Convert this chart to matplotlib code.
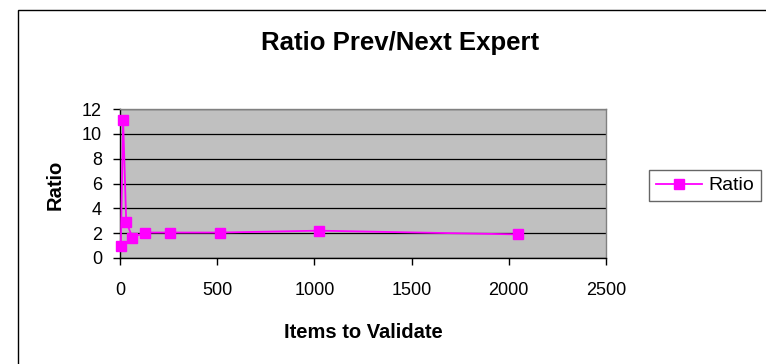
import matplotlib.pyplot as plt
from matplotlib.patches import Rectangle

items = [4, 16, 32, 64, 128, 256, 512, 1024, 2048]
ratio = [1.0, 11.1, 2.9, 1.65, 2.05, 2.05, 2.05, 2.2, 1.9]
x_ticks = [0, 500, 1000, 1500, 2000, 2500]
y_ticks = [0, 2, 4, 6, 8, 10, 12]

plt.rcParams['font.family'] = ['Liberation Sans', 'DejaVu Sans']

W, H = 766, 364
fig = plt.figure(figsize=(W / 100, H / 100), dpi=100)

# chart area frame, runs off the right and bottom edges
fig.patches.append(Rectangle((18 / W, -0.1), 1.0, 1.1 - 10.5 / H, transform=fig.transFigure,
                             fill=False, edgecolor='black', linewidth=1.0))

ax = fig.add_axes([120 / W, 1 - 258 / H, 486 / W, 149 / H])
ax.set_facecolor('#c0c0c0')
ax.plot(items, ratio, color='#ff00ff', marker='s', markersize=6.5, linewidth=1.3,
        label='Ratio', clip_on=False, zorder=3)

ax.set_xlim(0, 2500)
ax.set_ylim(0, 12)
ax.set_xticks(x_ticks)
ax.set_yticks(y_ticks)
ax.grid(axis='y', color='black', linewidth=0.9)
ax.set_axisbelow(True)

for side in ['left', 'bottom']:
    ax.spines[side].set_color('black')
    ax.spines[side].set_linewidth(1.0)
for side in ['top', 'right']:
    ax.spines[side].set_color('#808080')
    ax.spines[side].set_linewidth(1.0)

ax.tick_params(direction='out', length=5, width=1, labelsize=13)
ax.tick_params(axis='x', pad=12)
ax.tick_params(axis='y', pad=8)

fig.text(363 / W, 1 - 338 / H, 'Items to Validate', fontsize=14.5, fontweight='bold',
         ha='center', va='baseline')
fig.text(55.5 / W, 1 - 185 / H, 'Ratio', fontsize=14.5, fontweight='bold',
         rotation=90, ha='center', va='center')
fig.text(400 / W, 1 - 50 / H, 'Ratio Prev/Next Expert', fontsize=18.5, fontweight='bold',
         ha='center', va='baseline')

leg = fig.legend(loc='center left', bbox_to_anchor=(649 / W, 1 - 185.5 / H), fontsize=14,
                 frameon=True, fancybox=False, edgecolor='#404040', handlelength=2.4,
                 borderpad=0.35, handletextpad=0.3, borderaxespad=0)
leg.get_frame().set_linewidth(1.0)

fig.savefig('out.png', dpi=100)
